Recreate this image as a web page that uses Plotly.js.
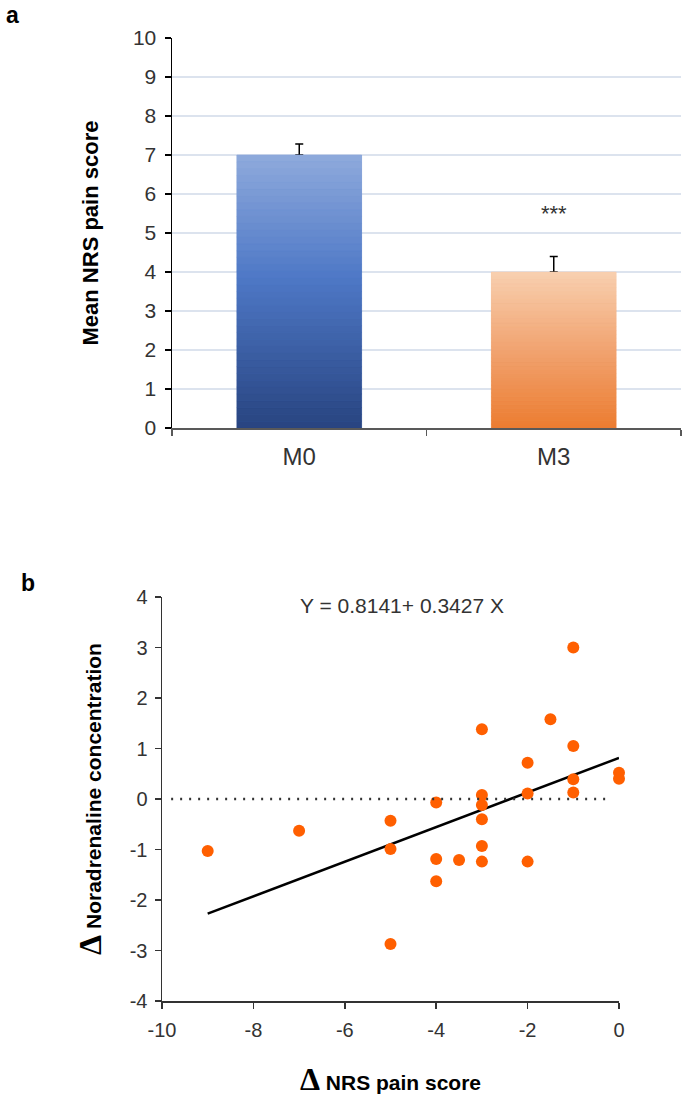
<!DOCTYPE html>
<html>
<head>
<meta charset="utf-8">
<script src="https://cdn.plot.ly/plotly-3.0.1.min.js"></script>
<style>
  html, body { margin: 0; padding: 0; background: #fff; }
  #container { width: 685px; height: 1111px; }
</style>
</head>
<body>
<div id="container"></div>
<script>
// panel a: mean NRS pain score per visit
var visits = ['M0', 'M3'];
var meanNrs = [7.0, 4.0];
var nrsError = [0.28, 0.4];

// panel b: change in NRS pain score vs change in noradrenaline
var deltaNrs = [-9, -7, -5, -5, -5, -4, -4, -4, -3.5, -3, -3, -3, -3, -3, -3,
                -2, -2, -2, -1.5, -1, -1, -1, -1, 0, 0];
var deltaNa = [-1.03, -0.63, -0.43, -0.99, -2.87, -0.07, -1.19, -1.63, -1.21,
               1.38, 0.08, -0.12, -0.40, -0.93, -1.24, 0.72, 0.11, -1.24,
               1.58, 3.0, 1.05, 0.39, 0.13, 0.52, 0.40];
var fitIntercept = 0.8141;
var fitSlope = 0.3427;

// tick labels of panel b (plain hyphen minus, as in the figure)
var nrsTicks = [-10, -8, -6, -4, -2, 0];
var naTicks = [-4, -3, -2, -1, 0, 1, 2, 3, 4];

// colour ramps, top of bar (0) to bottom (1)
var blueStops = [[0, [143, 170, 220]], [0.45, [78, 120, 198]], [1, [40, 68, 128]]];
var orangeStops = [[0, [248, 208, 176]], [0.5, [241, 163, 112]], [1, [236, 124, 48]]];

function ramp(stops, t) {
    for (var k = 1; k < stops.length; k++) {
        if (t <= stops[k][0]) {
            var a = stops[k - 1], b = stops[k];
            var f = (t - a[0]) / (b[0] - a[0]);
            var c = a[1].map(function(v, j) { return Math.round(v + (b[1][j] - v) * f); });
            return 'rgb(' + c.join(',') + ')';
        }
    }
    return 'rgb(' + stops[stops.length - 1][1].join(',') + ')';
}

var data = [];

// full bars first, carrying the error bars; the gradient slices cover them
data.push({
    type: 'bar',
    x: visits,
    y: meanNrs,
    width: 0.49,
    marker: { color: ['rgb(78,120,198)', 'rgb(241,163,112)'] },
    error_y: {
        type: 'data', symmetric: false,
        array: nrsError, arrayminus: [0, 0],
        color: '#000', thickness: 1.5, width: 4
    },
    hoverinfo: 'skip',
    xaxis: 'x', yaxis: 'y'
});

// thin slices so the bars get a vertical gradient
var nSlices = 40;
for (var i = 0; i < nSlices; i++) {
    var t = 1 - (i + 0.5) / nSlices;
    var cols = [ramp(blueStops, t), ramp(orangeStops, t)];
    data.push({
        type: 'bar',
        x: visits,
        y: meanNrs.map(function(v) { return v / nSlices; }),
        base: meanNrs.map(function(v) { return v * i / nSlices; }),
        width: 0.49,
        marker: { color: cols, line: { width: 0.6, color: cols } },
        hoverinfo: 'skip',
        xaxis: 'x', yaxis: 'y'
    });
}

// regression line over the range of the data
var fitX = [Math.min.apply(null, deltaNrs), Math.max.apply(null, deltaNrs)];
data.push({
    type: 'scatter', mode: 'lines',
    x: fitX,
    y: fitX.map(function(x) { return fitIntercept + fitSlope * x; }),
    line: { color: '#000', width: 2.5 },
    xaxis: 'x2', yaxis: 'y2'
});

data.push({
    type: 'scatter', mode: 'markers',
    x: deltaNrs, y: deltaNa,
    marker: { color: '#ff5f00', size: 12 },
    cliponaxis: false,
    xaxis: 'x2', yaxis: 'y2'
});

var delta = '<span style="font-family:\'Liberation Serif\', serif; font-size:32px">Δ</span> ';

var layout = {
    width: 685,
    height: 1111,
    margin: { l: 0, r: 0, t: 0, b: 0 },
    paper_bgcolor: '#fff',
    plot_bgcolor: 'rgba(0,0,0,0)',
    font: { family: 'Liberation Sans, Arial, sans-serif', color: '#333' },
    barmode: 'overlay',
    showlegend: false,
    xaxis: {
        domain: [172 / 685, 681 / 685],
        anchor: 'y',
        type: 'category',
        range: [-0.5, 1.5],
        tickson: 'boundaries',
        ticks: 'outside', ticklen: 6, tickcolor: '#595959', tickwidth: 1.5,
        showline: true, linecolor: '#595959', linewidth: 1.5,
        showgrid: false,
        tickfont: { size: 24, color: '#333' },
        ticklabelstandoff: 7
    },
    yaxis: {
        domain: [1 - 428 / 1111, 1 - 38 / 1111],
        anchor: 'x',
        range: [0, 10], dtick: 1,
        ticks: 'outside', ticklen: 6, tickcolor: '#000', tickwidth: 1.5,
        showline: true, linecolor: '#000', linewidth: 1.5,
        gridcolor: '#dce3ee', gridwidth: 1.5,
        zeroline: false,
        tickfont: { size: 21, color: '#333' },
        ticklabelstandoff: 4,
        title: { text: 'Mean NRS pain score', font: { size: 22, color: '#000', weight: 'bold' }, standoff: 28 }
    },
    xaxis2: {
        domain: [162 / 685, 619 / 685],
        anchor: 'y2',
        range: [-10, 0],
        tickvals: nrsTicks, ticktext: nrsTicks.map(String),
        ticks: 'outside', ticklen: 6, tickcolor: '#333', tickwidth: 1.5,
        showline: true, linecolor: '#333', linewidth: 1.5,
        showgrid: false, zeroline: false,
        tickfont: { size: 20, color: '#333' },
        ticklabelstandoff: 4,
        title: { text: delta + 'NRS pain score', font: { size: 21, color: '#000', weight: 'bold' }, standoff: 36 }
    },
    yaxis2: {
        domain: [1 - 1001 / 1111, 1 - 597 / 1111],
        anchor: 'x2',
        range: [-4, 4],
        tickvals: naTicks, ticktext: naTicks.map(String),
        ticks: 'outside', ticklen: 6, tickcolor: '#333', tickwidth: 1.5,
        showline: true, linecolor: '#333', linewidth: 1.5,
        showgrid: false, zeroline: false,
        tickfont: { size: 20, color: '#333' },
        ticklabelstandoff: 3,
        title: { text: delta + 'Noradrenaline concentration', font: { size: 21, color: '#000', weight: 'bold' }, standoff: 22 }
    },
    shapes: [{
        type: 'line', xref: 'x2', yref: 'y2',
        x0: -9.8, x1: -0.15, y0: 0, y1: 0,
        line: { color: '#333', width: 2.5, dash: '2px,7px' }
    }],
    annotations: [
        { text: 'a', xref: 'paper', yref: 'paper', x: 4 / 685, y: 1, xanchor: 'left', yanchor: 'top',
          showarrow: false, font: { size: 23, color: '#000', weight: 'bold' } },
        { text: 'b', xref: 'paper', yref: 'paper', x: 19 / 685, y: 1 - 583 / 1111, xanchor: 'left', yanchor: 'middle',
          showarrow: false, font: { size: 23, color: '#000', weight: 'bold' } },
        { text: '***', xref: 'x', yref: 'y', x: 'M3', y: 5.5, yanchor: 'middle',
          showarrow: false, font: { size: 22, color: '#333' } },
        { text: 'Y = 0.8141+ 0.3427 X', xref: 'x2', yref: 'y2', x: -4.75, y: 3.84, yanchor: 'middle',
          showarrow: false, font: { size: 21, color: '#333' } }
    ]
};

Plotly.newPlot('container', data, layout, { staticPlot: true });
</script>
</body>
</html>
